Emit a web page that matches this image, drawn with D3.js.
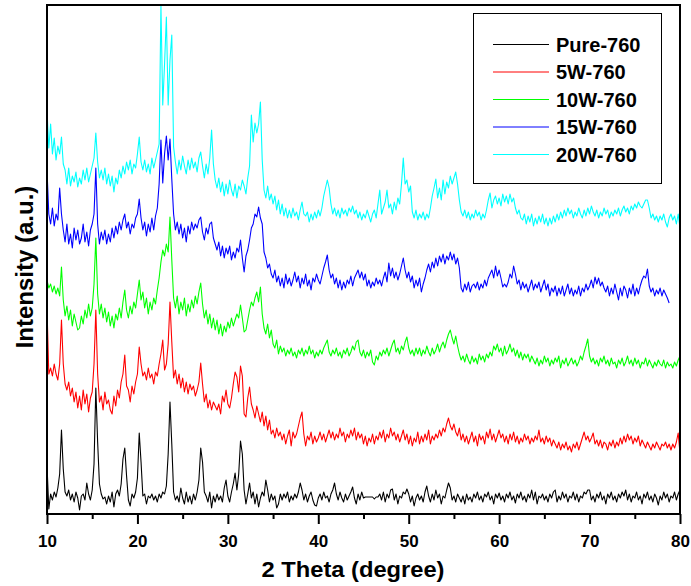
<!DOCTYPE html>
<html>
<head>
<meta charset="utf-8">
<script src="https://cdn.jsdelivr.net/npm/d3@7/dist/d3.min.js"></script>
<style>
  html, body { margin: 0; padding: 0; background: #fff; }
  svg { display: block; font-family: Arial, "Liberation Sans", Helvetica, sans-serif; }
</style>
</head>
<body>
<svg id="chart" width="691" height="586"></svg>
<script>
// XRD step scan: 2θ from 10° to 80°, 0.2° per step
const thetaStart = 10;
const thetaStep = 0.2;

const seriesNames = ["Pure-760", "5W-760", "10W-760", "15W-760", "20W-760"];
const seriesColors = ["#000000", "#ff0000", "#00ff00", "#0000ff", "#00ffff"];

const xTicks = [10, 20, 30, 40, 50, 60, 70, 80];
const xMinorTicks = [15, 25, 35, 45, 55, 65, 75];

// Intensities (a.u., offset stacked patterns), one value per step
const pure760 = [
  49,5,20,14,22, 17,26,40,84,45, 22,18,24,14,20, 12,22,16,4,18, 20,14,31,20,14, 24,50,126,72,30, 20,15,17,10,18, 12,22,7,20,24, 18,30,55,66,38, 14,8,20,16,22,
  36,81,52,18,20, 10,18,16,20,14, 18,12,20,16,22, 20,28,60,112,70, 22,14,18,12,26, 16,10,22,12,18, 10,20,14,22,34, 66,52,22,18,12, 22,6,18,12,20, 14,18,12,26,34,
  18,12,22,30,41, 24,40,73,60,24, 10,20,31,16,22, 10,20,7,16,22, 18,34,24,12,20, 14,18,6,10,20, 14,20,16,22,12, 18,14,20,16,22, 31,24,14,20,12, 18,22,14,9,8,
  16,20,14,22,16, 18,12,20,24,31, 20,14,22,16,12, 20,14,18,22,27, 16,10,20,14,22, 16,17,17,17,17, 17,15,17,17,20, 14,22,12,20,16, 24,25,14,20,10, 18,16,22,20,25,
  20,12,18,8,16, 20,14,18,12,22, 28,18,12,20,14, 24,16,20,10,18, 16,24,31,26,14, 18,12,20,16,12, 18,10,20,14,17, 12,20,16,22,14, 18,12,20,17,22, 14,18,10,20,16,
  21,14,18,12,20, 16,22,14,18,11, 20,16,22,14,18, 12,20,16,24,14, 22,10,18,16,20, 14,18,12,20,16, 22,24,12,18,14, 22,16,20,12,18, 16,22,14,20,12, 18,16,22,20,24,
  24,14,18,12,20, 16,22,14,18,10, 20,16,22,14,18, 12,20,16,22,18, 24,14,20,12,18, 16,22,14,18,10, 20,16,22,14,18, 12,20,16,9,18, 14,22,16,20,12, 18,16,22,14,20,
  24
];
const w5_760 = [
  206,140,146,138,150, 140,134,150,194,150, 130,124,132,118,126, 112,122,106,118,104, 124,110,120,102,116, 122,150,204,140,112, 118,104,122,110,114, 104,100,118,108,124, 116,132,140,159,128, 124,112,128,120,132,
  140,167,150,138,142, 134,146,136,140,130, 142,138,150,160,174, 144,150,170,212,172, 136,144,130,140,126, 136,122,132,120,130, 124,128,118,124,132, 151,130,112,120,106, 114,104,112,108,104, 110,100,118,112,124,
  110,106,116,130,142, 137,122,148,138,100, 97,116,127,110,104, 96,108,100,92,102, 88,98,84,94,80, 84,76,86,78,82, 74,80,70,78,84, 68,82,76,80,88, 96,102,80,68,78, 74,82,70,78,72,
  76,82,74,80,72, 78,84,76,82,74, 80,76,86,78,82, 72,80,76,84,78, 86,74,82,76,80, 70,78,68,76,72, 80,70,78,74,82, 76,84,72,80,76, 86,78,82,74,80, 72,78,84,74,80,
  70,78,68,76,72, 82,70,78,72,80, 74,84,70,78,74, 80,76,84,78,86, 82,90,96,88,84, 90,82,78,86,74, 80,72,78,70,76, 82,72,78,68,80, 74,78,70,82,76, 85,74,80,72,78,
  84,76,80,72,78, 70,80,74,82,72, 78,70,76,72,80, 74,78,70,76,72, 78,74,84,72,76, 70,78,72,76,68, 74,70,66,72,64, 70,66,72,64,68, 62,70,66,72,64, 70,76,82,74,78,
  72,76,81,70,74, 68,74,66,72,70, 64,72,68,74,66, 72,68,76,70,78, 72,80,74,78,70, 76,72,78,68,74, 70,66,72,68,64, 70,66,72,68,64, 70,68,72,66,70, 64,70,66,72,81,
  61
];
const w10_760 = [
  234,226,230,222,228, 220,226,218,247,214, 198,208,194,204,188, 200,192,184,186,198, 190,204,196,210,198, 206,230,276,220,200, 210,196,206,192,202, 188,198,186,200,194, 206,196,212,224,204, 196,208,200,212,206,
  220,234,214,222,206, 216,200,212,204,216, 210,224,236,252,264, 258,270,262,297,254, 216,206,218,200,212, 204,216,198,210,202, 214,206,218,210,222, 231,210,196,204,190, 200,186,196,184,194, 180,190,178,188,182,
  192,186,196,188,194, 200,196,209,196,182, 184,194,204,212,208, 216,222,212,227,200, 186,180,190,176,184, 170,166,174,160,168, 162,166,158,164,160, 166,158,162,156,164, 160,166,158,164,160, 168,160,164,156,162,
  158,164,160,166,170, 174,162,158,164,160, 166,158,162,156,164, 160,166,158,162,168, 164,172,174,162,158, 164,156,162,158,164, 152,149,158,154,162, 158,164,160,166,158, 164,170,174,162,166, 160,168,164,172,177,
  166,160,164,158,166, 160,166,158,164,160, 168,162,158,166,160, 164,170,162,168,172, 166,174,180,184,176, 170,178,168,160,154, 158,152,160,154,150, 158,152,156,150,160, 154,158,152,160,156, 162,158,168,164,170,
  162,166,158,168,160, 164,170,162,166,158, 164,156,162,154,160, 156,160,152,158,154, 150,156,148,154,150, 158,152,156,148,154, 150,156,152,158,146, 154,150,156,148,152, 156,150,154,148,152, 158,154,162,168,175,
  158,152,156,150,154, 148,156,152,158,150, 154,148,156,150,152, 146,154,150,156,148, 152,158,150,154,148, 156,150,154,146,152, 150,156,148,154,150, 146,152,148,154,150, 148,154,146,152,148, 150,146,152,148,154,
  158
];
const w15_760 = [
  344,300,290,306,288, 300,294,326,300,284, 272,290,270,280,266, 286,274,284,270,276, 290,272,282,268,284, 290,300,346,290,270, 282,274,284,270,280, 272,286,276,288,280, 292,284,294,300,286, 292,280,290,286,296,
  300,315,296,284,292, 278,290,282,296,284, 298,306,330,374,331, 360,378,354,375,335, 300,284,292,280,290, 276,286,272,288,280, 292,284,290,286,294, 297,282,274,286,280, 290,292,276,270,264, 272,258,268,256,266,
  260,268,254,262,256, 266,262,274,256,242, 258,264,274,286,290, 300,297,307,296,290, 262,256,246,250,240, 236,244,232,238,228, 236,226,240,230,236, 228,234,242,232,238, 226,236,230,240,228, 234,224,236,232,240,
  234,230,238,246,252, 259,244,236,240,230, 236,226,234,224,232, 226,234,230,238,228, 236,240,244,236,242, 234,240,228,234,226, 232,228,236,230,234, 228,236,242,232,251, 238,246,236,242,234, 240,248,256,244,236,
  242,232,238,226,234, 228,236,222,230,236, 244,250,242,252,246, 256,248,258,252,260, 250,258,254,262,254, 260,250,256,246,226, 222,230,224,232,222, 228,230,226,232,224, 230,226,234,228,236, 240,244,236,248,238,
  244,236,227,230,227, 232,240,236,248,240, 230,234,224,232,226, 230,222,228,234,224, 230,226,232,222,228, 234,224,230,218,226, 222,228,218,226,220, 228,218,224,230,220, 226,218,224,220,228, 218,226,222,230,224,
  228,234,226,237,230, 236,228,232,226,222, 228,218,226,220,230, 222,214,226,218,228, 224,216,226,220,230, 218,226,220,228,234, 238,236,245,228,222, 226,218,224,220,226, 218,224,220,216,211
];
const w20_760 = [
  404,366,390,360,376, 354,368,360,377,350, 344,330,346,328,338, 332,342,327,336,330, 344,334,346,332,340, 348,356,381,352,336, 344,334,346,330,340, 328,338,322,336,330, 344,336,348,340,352, 344,354,340,350,346,
  360,377,352,344,354, 342,350,340,356,346, 354,362,370,508,409, 450,497,409,454,479, 367,352,340,354,344, 358,348,340,354,344, 356,346,352,342,356, 362,348,336,350,340, 356,384,350,334,326, 336,322,332,318,330,
  320,334,324,318,330, 316,328,324,334,328, 320,336,348,399,372, 391,381,390,412,354, 324,316,328,314,320, 310,318,304,314,300, 310,298,306,296,304, 296,306,298,302,294, 304,312,300,298,302, 292,300,294,302,296,
  304,298,306,318,326, 334,326,310,300,306, 298,304,296,306,300, 304,298,306,302,308, 300,304,296,302,294, 300,296,304,298,292, 300,304,296,310,324, 300,306,312,324,306, 310,300,312,304,316, 310,330,356,330,334,
  322,328,302,296,304, 294,300,296,302,294, 300,296,306,318,326, 335,316,326,314,334, 320,332,326,338,330, 336,342,330,314,302, 298,304,296,302,294, 300,296,304,298,302, 294,300,296,304,314, 321,306,314,318,310,
  316,308,320,312,318, 310,320,312,316,306, 300,304,296,294,300, 290,298,292,300,288, 296,290,298,292,300, 290,296,288,296,290, 298,292,300,294,302, 296,304,298,306,300, 304,296,302,298,306, 300,296,304,298,306,
  300,308,302,298,304, 296,302,298,306,300, 304,296,302,298,304, 300,306,298,304,308, 302,306,300,308,304, 310,306,312,308,306, 310,314,314,306,296, 300,294,298,292,298, 294,300,292,287,296, 300,294,298,290,300,
  286
];

const seriesValues = [pure760, w5_760, w10_760, w15_760, w20_760];

const svg = d3.select("#chart");
const plot = { left: 47, right: 680, top: 5, bottom: 514 };

const x = d3.scaleLinear().domain([10, 80]).range([plot.left, plot.right]);
const y = d3.scaleLinear().domain([0, 509]).range([plot.bottom, plot.top]);

svg.append("defs").append("clipPath").attr("id", "plot-clip")
  .append("rect")
  .attr("x", plot.left).attr("y", plot.top)
  .attr("width", plot.right - plot.left).attr("height", plot.bottom - plot.top);

const line = d3.line()
  .x((d, i) => x(thetaStart + i * thetaStep))
  .y(d => y(d));

const traces = svg.append("g").attr("clip-path", "url(#plot-clip)");
seriesValues.forEach((vals, k) => {
  traces.append("path")
    .datum(vals)
    .attr("fill", "none")
    .attr("stroke", seriesColors[k])
    .attr("stroke-width", 1.1)
    .attr("stroke-linejoin", "round")
    .attr("d", line);
});

// Bottom axis: labelled major ticks and unlabelled minor ticks
const xAxis = d3.axisBottom(x).tickValues(xTicks).tickFormat(d3.format("d")).tickSize(10).tickPadding(11);
const xMinor = d3.axisBottom(x).tickValues(xMinorTicks).tickFormat("").tickSize(5);

const gx = svg.append("g").attr("transform", `translate(0,${plot.bottom})`).call(xAxis);
gx.select(".domain").remove();
gx.selectAll(".tick line").attr("stroke", "#000").attr("stroke-width", 2);
gx.selectAll(".tick text")
  .attr("fill", "#000")
  .style("font-size", "17px")
  .style("font-weight", "bold")
  .style("font-family", "Arial, 'Liberation Sans', sans-serif");

const gxm = svg.append("g").attr("transform", `translate(0,${plot.bottom})`).call(xMinor);
gxm.select(".domain").remove();
gxm.selectAll(".tick line").attr("stroke", "#000").attr("stroke-width", 2);

// Frame
svg.append("rect")
  .attr("x", plot.left).attr("y", plot.top)
  .attr("width", plot.right - plot.left).attr("height", plot.bottom - plot.top)
  .attr("fill", "none").attr("stroke", "#000").attr("stroke-width", 2);

// Axis titles
svg.append("text")
  .attr("x", 353).attr("y", 577)
  .attr("text-anchor", "middle")
  .attr("textLength", 183).attr("lengthAdjust", "spacingAndGlyphs")
  .style("font-size", "22px").style("font-weight", "bold")
  .text("2 Theta (degree)");

svg.append("text")
  .attr("transform", "translate(33,267) rotate(-90)")
  .attr("text-anchor", "middle")
  .style("font-size", "24px").style("font-weight", "bold")
  .text("Intensity (a.u.)");

// Legend
const legend = svg.append("g");
legend.append("rect")
  .attr("x", 473.5).attr("y", 13.5).attr("width", 188).attr("height", 170)
  .attr("fill", "#fff").attr("stroke", "#000").attr("stroke-width", 1);

const rowY = d3.scalePoint().domain(seriesNames).range([44.5, 154.5]);
seriesNames.forEach((name, k) => {
  legend.append("line")
    .attr("x1", 493).attr("x2", 549)
    .attr("y1", rowY(name)).attr("y2", rowY(name))
    .attr("stroke", seriesColors[k]).attr("stroke-width", 1);
  legend.append("text")
    .attr("x", 556).attr("y", rowY(name) + 7)
    .style("font-size", "20px").style("font-weight", "bold")
    .text(name);
});
</script>
</body>
</html>
